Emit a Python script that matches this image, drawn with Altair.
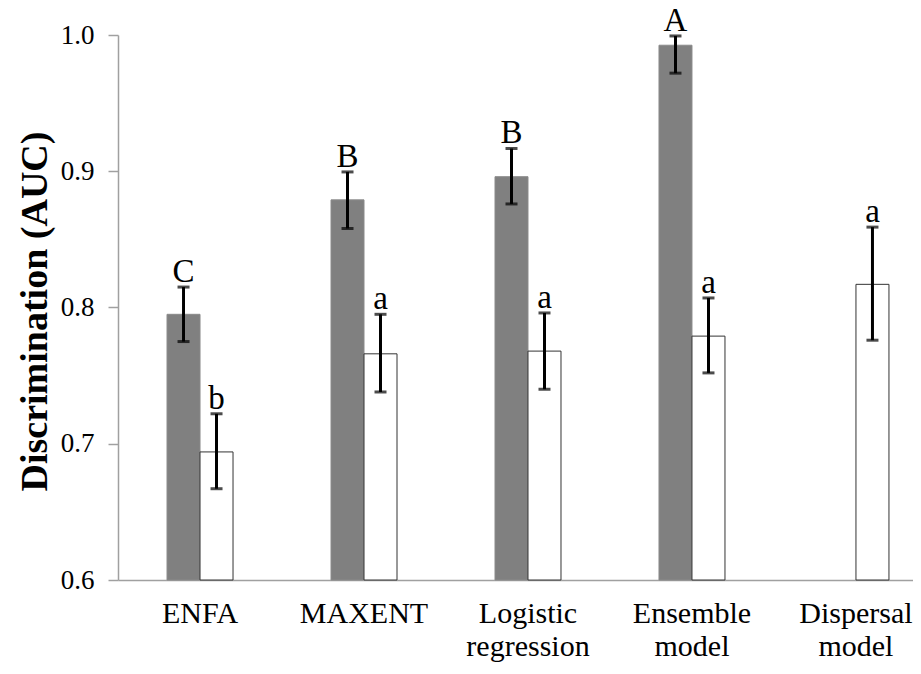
import altair as alt
import pandas as pd

categories = ["ENFA", "MAXENT", "Logistic\nregression", "Ensemble\nmodel", "Dispersal\nmodel"]
series_names = ["calibration", "validation"]

gray_auc = [0.795, 0.879, 0.896, 0.9925, None]
gray_lo = [0.775, 0.858, 0.876, 0.972, None]
gray_hi = [0.815, 0.8995, 0.9167, 0.9993, None]
gray_letter = ["C", "B", "B", "A", None]

white_auc = [0.694, 0.766, 0.768, 0.779, 0.817]
white_lo = [0.667, 0.738, 0.740, 0.752, 0.776]
white_hi = [0.722, 0.795, 0.796, 0.807, 0.859]
white_letter = ["b", "a", "a", "a", "a"]

y_ticks = [0.6, 0.7, 0.8, 0.9, 1.0]

rows = []
for i, cat in enumerate(categories):
    if gray_auc[i] is not None:
        rows.append(dict(model=cat, series=series_names[0], auc=gray_auc[i],
                         lo=gray_lo[i], hi=gray_hi[i], letter=gray_letter[i]))
    rows.append(dict(model=cat, series=series_names[1], auc=white_auc[i],
                     lo=white_lo[i], hi=white_hi[i], letter=white_letter[i]))
df = pd.DataFrame(rows)

FONT = "Liberation Serif"
AXIS_GRAY = "#a0a0a0"

x_enc = alt.X(
    "model:N",
    sort=categories,
    scale=alt.Scale(paddingInner=0.5976, paddingOuter=0.2228, align=0.671),
    axis=alt.Axis(
        title=None, labelAngle=0, labelFont=FONT, labelFontSize=30, labelColor="black",
        labelPadding=18, ticks=False, domainColor=AXIS_GRAY, domainWidth=1.5,
        labelExpr="split(datum.label, '\\n')", labelLineHeight=33, labelBaseline="top",
    ),
)
xoff_enc = alt.XOffset("series:N", scale=alt.Scale(domain=series_names))
y_scale = alt.Scale(domain=[0.6, 1.0], zero=False, nice=False)

base = alt.Chart(df)

bars = base.mark_bar(strokeWidth=1).encode(
    x=x_enc,
    xOffset=xoff_enc,
    y=alt.Y(
        "auc:Q",
        scale=y_scale,
        axis=alt.Axis(
            values=y_ticks, format=".1f", title="Discrimination (AUC)",
            titleFont=FONT, titleFontSize=38, titleFontWeight="bold", titleColor="black",
            titleAngle=-90, titleX=-72, titleY=276, titleAlign="center",
            titleBaseline="alphabetic",
            labelFont=FONT, labelFontSize=27, labelColor="black", labelPadding=14,
            labelFlush=False,
            tickSize=10, tickColor=AXIS_GRAY, tickWidth=1.5,
            domainColor=AXIS_GRAY, domainWidth=1.5, grid=False,
        ),
    ),
    y2=alt.datum(0.6),
    color=alt.Color("series:N", scale=alt.Scale(domain=series_names, range=["#808080", "#ffffff"]), legend=None),
    stroke=alt.Stroke("series:N", scale=alt.Scale(domain=series_names, range=["#8a8a8a", "#333333"]), legend=None),
)

rules = base.mark_rule(color="black", strokeWidth=3).encode(
    x=x_enc, xOffset=xoff_enc, y=alt.Y("lo:Q", scale=y_scale), y2="hi:Q"
)
cap_lo = base.mark_tick(orient="horizontal", size=12, thickness=3, color="black").encode(
    x=x_enc, xOffset=xoff_enc, y=alt.Y("lo:Q", scale=y_scale)
)
cap_hi = base.mark_tick(orient="horizontal", size=12, thickness=3, color="black").encode(
    x=x_enc, xOffset=xoff_enc, y=alt.Y("hi:Q", scale=y_scale)
)
letters = base.mark_text(font=FONT, fontSize=33, baseline="alphabetic", dy=-5, color="black").encode(
    x=x_enc, xOffset=xoff_enc, y=alt.Y("hi:Q", scale=y_scale), text="letter:N"
)

chart = alt.layer(bars, rules, cap_lo, cap_hi, letters).properties(
    width=795, height=545,
    autosize=alt.AutoSizeParams(type="none"),
    padding={"left": 110, "top": 27, "right": 0, "bottom": 86},
).configure_view(stroke=None).configure_axis(grid=False)

chart.save("out.html", embed_options={"renderer": "svg", "actions": False})
